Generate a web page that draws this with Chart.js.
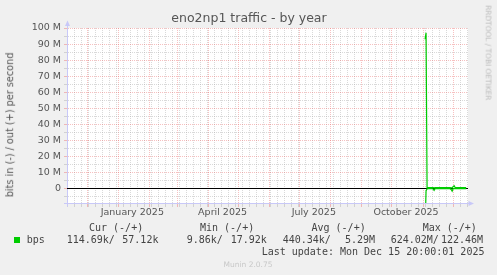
<!DOCTYPE html>
<html><head><meta charset="utf-8">
<script src="https://cdn.jsdelivr.net/npm/chart.js@4"></script>
<style>
html,body{margin:0;padding:0;background:#F0F0F0;}
#wrap{position:relative;width:497px;height:275px;overflow:hidden;background:#F0F0F0;}
canvas{position:absolute;left:0;top:0;}
.t{position:absolute;white-space:pre;font-family:"DejaVu Sans";color:#555;line-height:1;}
.m{position:absolute;white-space:pre;font-family:"DejaVu Sans Mono";font-size:10px;color:#444;line-height:1;}
</style></head><body>
<div id="wrap">
<canvas id="c" width="497" height="275"></canvas>
<div class="t" style="left:0;width:498px;text-align:center;top:12.4px;font-size:12.5px;">eno2np1 traffic - by year</div>
<div class="t" style="left:-90px;width:200px;height:9.7px;line-height:9.7px;text-align:center;top:119.6px;font-size:9.7px;transform:rotate(-90deg);">bits in (-) / out (+) per second</div>
<div class="t" style="left:387.8px;width:200px;height:7.4px;line-height:7.4px;text-align:center;top:48.8px;font-size:7.4px;color:#bbb;transform:rotate(90deg);">RRDTOOL / TOBI OETIKER</div>
<div class="m" style="left:89px;top:222.6px;">Cur (-/+)</div>
<div class="m" style="left:200px;top:222.6px;">Min (-/+)</div>
<div class="m" style="left:311.5px;top:222.6px;">Avg (-/+)</div>
<div class="m" style="left:422.7px;top:222.6px;">Max (-/+)</div>
<div style="position:absolute;left:14px;top:237px;width:6px;height:6px;background:#00CC00;"></div>
<div class="m" style="left:26.7px;top:234.6px;">bps</div>
<div class="m" style="left:66.7px;top:234.6px;">114.69k/</div>
<div class="m" style="left:122.3px;top:234.6px;">57.12k</div>
<div class="m" style="left:186.7px;top:234.6px;">9.86k/</div>
<div class="m" style="left:230.7px;top:234.6px;">17.92k</div>
<div class="m" style="left:282.7px;top:234.6px;">440.34k/</div>
<div class="m" style="left:345px;top:234.6px;">5.29M</div>
<div class="m" style="left:390.7px;top:234.6px;">624.02M/</div>
<div class="m" style="left:441px;top:234.6px;">122.46M</div>
<div class="m" style="left:261.7px;top:247.4px;">Last update: Mon Dec 15 20:00:01 2025</div>
<div class="t" style="left:0;width:496px;text-align:center;top:260.7px;font-size:7.5px;color:#c8c8c8;">Munin 2.0.75</div>
</div>
<script>
// x values are days since 1 January 2025
const xMin = -51.17, xMax = 348.83;            // 400-day window ending Dec 15 2025 20:00
const monthStarts = [-31, 0, 31, 59, 90, 120, 151, 181, 212, 243, 273, 304, 334];
const labelDays = [14, 104, 195, 287];
const labelTexts = ['January 2025', 'April 2025', 'July 2025', 'October 2025'];
const firstMonday = -51;
const yTickValues = [-5e6,0,5e6,10e6,15e6,20e6,25e6,30e6,35e6,40e6,45e6,50e6,55e6,60e6,65e6,70e6,75e6,80e6,85e6,90e6,95e6,100e6];

// daily averages (Mbit/s); no data before day 306
const days = [306,307,308,309,310,311,312,313,314,315,316,317,318,319,320,321,322,323,324,325,326,327,328,329,330,331,332,333,334,335,336,337,338,339,340,341,342,343,344,345,346,347];
const outMbps = [93,97,0.55,0.5,0.5,0.55,0.5,0.5,0.5,0.45,0.5,0.5,0.5,0.5,0.5,0.55,0.5,0.5,0.5,0.5,0.5,0.5,0.5,0.5,0.5,0.5,0.45,0.5,1.1,1.7,0.6,0.5,0.5,0.5,0.5,0.5,0.5,0.5,0.5,0.5,0.5,0.5];
const inMbps = [-25,-1.5,-0.2,-0.1,-0.1,-0.1,-0.1,-0.1,-0.3,-1.2,-0.1,-0.1,-0.1,-0.1,-0.1,-0.1,-0.1,-0.1,-0.1,-0.1,-0.1,-0.1,-0.1,-0.1,-0.1,-0.1,-0.6,-1.6,-0.1,-0.1,-0.1,-0.1,-0.1,-0.1,-0.1,-0.1,-0.1,-0.1,-0.1,-0.1,-0.1,-0.1];
const zeroLine = [0, 0];

const weekly = [];
for (let d = firstMonday; d <= xMax; d += 7) weekly.push(d);
const xTickValues = Array.from(new Set([...weekly, ...monthStarts, ...labelDays])).sort((a,b)=>a-b);

const MAJOR = 'rgba(235,90,90,0.38)';
const MINOR = 'rgba(170,170,170,0.45)';
const AXIS = '#C8C8F8';

Chart.defaults.font.family = 'DejaVu Sans';

const bgPlugin = {
  id: 'bg',
  beforeDraw(chart) {
    const {ctx, chartArea: a} = chart;
    ctx.save(); ctx.fillStyle = '#FFFFFF';
    ctx.fillRect(a.left, a.top, a.right - a.left, a.bottom - a.top);
    ctx.restore();
  },
  afterDraw(chart) {
    const {ctx, chartArea: a} = chart;
    ctx.save(); ctx.fillStyle = AXIS; ctx.strokeStyle = AXIS; ctx.lineWidth = 1;
    const x = Math.round(a.left) + 0.5, y = Math.round(a.bottom) + 0.5;
    ctx.beginPath(); ctx.moveTo(x, a.top); ctx.lineTo(x, a.top - 3); ctx.stroke();
    ctx.beginPath(); ctx.moveTo(x, y); ctx.lineTo(x, y + 3); ctx.stroke();
    ctx.beginPath(); ctx.moveTo(a.left - 3, y); ctx.lineTo(a.left, y); ctx.stroke();
    ctx.beginPath(); ctx.moveTo(a.right, y); ctx.lineTo(a.right + 1, y); ctx.stroke();
    ctx.beginPath(); ctx.moveTo(x - 2.5, a.top - 2); ctx.lineTo(x + 2.5, a.top - 2); ctx.lineTo(x, a.top - 7.5); ctx.closePath(); ctx.fill();
    ctx.beginPath(); ctx.moveTo(a.right + 0.5, y - 2.5); ctx.lineTo(a.right + 0.5, y + 2.5); ctx.lineTo(a.right + 6, y); ctx.closePath(); ctx.fill();
    ctx.restore();
  }
};

const GREEN = '#00CC00';
new Chart(document.getElementById('c'), {
  type: 'line',
  data: {
    datasets: [
      { label: 'out', data: days.map((d,i)=>({x:d, y:outMbps[i]*1e6})), borderColor: GREEN, borderWidth: 1.2, pointRadius: 0, tension: 0 },
      { label: 'in', data: days.map((d,i)=>({x:d, y:inMbps[i]*1e6})), borderColor: GREEN, borderWidth: 1.2, pointRadius: 0, tension: 0 },
      { label: 'zero', data: [{x:xMin, y:zeroLine[0]}, {x:xMax, y:zeroLine[1]}], borderColor: '#000000', borderWidth: 1, pointRadius: 0 }
    ]
  },
  options: {
    responsive: false, animation: false, devicePixelRatio: 1, events: [],
    layout: { padding: { top: 28, right: 29, bottom: 50, left: 0 } },
    plugins: { legend: { display: false }, tooltip: { enabled: false }, title: { display: false } },
    scales: {
      x: {
        type: 'linear', min: xMin, max: xMax,
        afterBuildTicks(scale) { scale.ticks = xTickValues.map(v => ({ value: v })); },
        afterFit(scale) { scale.height = 22; },
        ticks: {
          autoSkip: false, maxRotation: 0, minRotation: 0, padding: 0,
          color: '#555', font: { size: 9.5 },
          callback(v) { const i = labelDays.indexOf(v); return i >= 0 ? labelTexts[i] : ''; }
        },
        grid: {
          drawTicks: true, tickLength: 4, lineWidth: 1,
          color(ctx) {
            const v = ctx.tick && ctx.tick.value;
            if (monthStarts.includes(v)) return MAJOR;
            if (labelDays.includes(v)) return 'rgba(0,0,0,0)';
            return MINOR;
          }
        },
        border: { display: true, color: AXIS, width: 1, dash: [1, 1] }
      },
      y: {
        type: 'linear', min: -9.03e6, max: 100e6,
        afterBuildTicks(scale) { scale.ticks = yTickValues.map(v => ({ value: v })); },
        afterFit(scale) { scale.width = 67; },
        ticks: {
          autoSkip: false, padding: 3, color: '#555', font: { size: 9.5 },
          callback(v) { if (v < 0 || v % 10e6 !== 0) return ''; return v === 0 ? '0' : (v / 1e6) + ' M'; }
        },
        grid: {
          drawTicks: true, tickLength: 3, lineWidth: 1,
          color(ctx) { const v = ctx.tick && ctx.tick.value; return (v % 10e6 === 0) ? MAJOR : MINOR; }
        },
        border: { display: true, color: AXIS, width: 1, dash: [1, 1] }
      }
    }
  },
  plugins: [bgPlugin]
});
</script>
</body></html>
